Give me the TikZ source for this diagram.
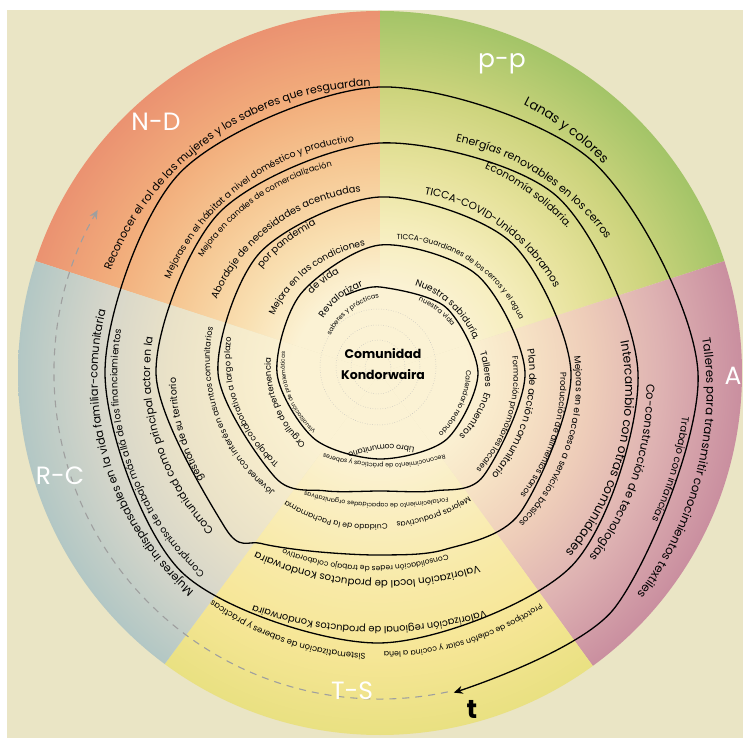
\documentclass[tikz,border=0pt]{standalone}
\usepackage{fontspec}
\setmainfont{Poppins}
\usetikzlibrary{arrows.meta,decorations.text}

\definecolor{bgbeige}{RGB}{234,229,197}
\definecolor{cpale}{RGB}{251,242,212}
\definecolor{nd1}{RGB}{249,224,178}\definecolor{nd2}{RGB}{246,200,148}\definecolor{nd3}{RGB}{242,174,124}\definecolor{nd4}{RGB}{234,144,112}\definecolor{nd5}{RGB}{216,110,102}
\definecolor{pp1}{RGB}{246,238,190}\definecolor{pp2}{RGB}{230,226,155}\definecolor{pp3}{RGB}{205,212,125}\definecolor{pp4}{RGB}{160,195,102}\definecolor{pp5}{RGB}{104,170,88}
\definecolor{aa1}{RGB}{247,228,198}\definecolor{aa2}{RGB}{238,205,185}\definecolor{aa3}{RGB}{222,178,178}\definecolor{aa4}{RGB}{200,140,158}\definecolor{aa5}{RGB}{172,102,132}
\definecolor{ts1}{RGB}{250,238,192}\definecolor{ts2}{RGB}{248,234,168}\definecolor{ts3}{RGB}{246,230,150}\definecolor{ts4}{RGB}{232,224,128}\definecolor{ts5}{RGB}{196,205,98}
\definecolor{rc1}{RGB}{246,236,204}\definecolor{rc2}{RGB}{234,226,200}\definecolor{rc3}{RGB}{214,214,202}\definecolor{rc4}{RGB}{176,198,196}\definecolor{rc5}{RGB}{124,180,180}

\pgfdeclareradialshading{shND}{\pgfpoint{0bp}{0bp}}{color(0bp)=(cpale);color(6bp)=(cpale);color(9.8bp)=(nd1);color(14.6bp)=(nd2);color(19.5bp)=(nd3);color(25.4bp)=(nd4);color(32.2bp)=(nd5);color(50bp)=(nd5)}
\pgfdeclareradialshading{shPP}{\pgfpoint{0bp}{0bp}}{color(0bp)=(cpale);color(6bp)=(cpale);color(9.8bp)=(pp1);color(14.6bp)=(pp2);color(19.5bp)=(pp3);color(25.4bp)=(pp4);color(32.2bp)=(pp5);color(50bp)=(pp5)}
\pgfdeclareradialshading{shA}{\pgfpoint{0bp}{0bp}}{color(0bp)=(cpale);color(6bp)=(cpale);color(9.8bp)=(aa1);color(14.6bp)=(aa2);color(19.5bp)=(aa3);color(25.4bp)=(aa4);color(32.2bp)=(aa5);color(50bp)=(aa5)}
\pgfdeclareradialshading{shTS}{\pgfpoint{0bp}{0bp}}{color(0bp)=(cpale);color(6bp)=(cpale);color(9.8bp)=(ts1);color(14.6bp)=(ts2);color(19.5bp)=(ts3);color(25.4bp)=(ts4);color(32.2bp)=(ts5);color(50bp)=(ts5)}
\pgfdeclareradialshading{shRC}{\pgfpoint{0bp}{0bp}}{color(0bp)=(cpale);color(6bp)=(cpale);color(9.8bp)=(rc1);color(14.6bp)=(rc2);color(19.5bp)=(rc3);color(25.4bp)=(rc4);color(32.2bp)=(rc5);color(50bp)=(rc5)}

% text on a ring: [bulge] start angle, end angle, start radius, end radius, size, text
\newcommand\arclabel[7][0]{%
  \path[decorate,decoration={text along path,text align=center,
      text={|\fontsize{#6}{#6}\selectfont|#7}}]
    plot[domain=-0.3:1.3,samples=60,variable=\x]
      ({((#4)+((#5)-(#4))*\x+(#1)*4*\x*(1-\x))*cos((#2)+((#3)-(#2))*\x)},
       {((#4)+((#5)-(#4))*\x+(#1)*4*\x*(1-\x))*sin((#2)+((#3)-(#2))*\x)});}

\begin{document}
\begin{tikzpicture}[x=1pt,y=1pt,
  sector/.style={text=white,font=\fontsize{25}{25}\selectfont,anchor=base},
  spiral/.style={line width=1.3pt,black,-{Stealth[length=9pt,width=8pt]}},
  timeline/.style={line width=1.1pt,gray!75,dash pattern=on 7pt off 6pt,-{Stealth[length=9pt,width=8pt]}},
  ringdot/.style={gray!55,dotted,line width=0.5pt}]
  \useasboundingbox (0,0) rectangle (743,738);
  \fill[bgbeige] (7,0) rectangle (743,728);

  \begin{scope}[shift={(380,365)}]
    % coloured sectors
    \begin{scope}
      \clip (0,0) -- (90:363) arc[start angle=90,end angle=162,radius=363] -- cycle;
      \shade[shading=shND] (0,0) circle (362);
    \end{scope}
    \begin{scope}
      \clip (0,0) -- (18:363) arc[start angle=18,end angle=90,radius=363] -- cycle;
      \shade[shading=shPP] (0,0) circle (362);
    \end{scope}
    \begin{scope}
      \clip (0,0) -- (-54:363) arc[start angle=-54,end angle=18,radius=363] -- cycle;
      \shade[shading=shA] (0,0) circle (362);
    \end{scope}
    \begin{scope}
      \clip (0,0) -- (-126.5:363) arc[start angle=-126.5,end angle=-54,radius=363] -- cycle;
      \shade[shading=shTS] (0,0) circle (362);
    \end{scope}
    \begin{scope}
      \clip (0,0) -- (162:363) arc[start angle=162,end angle=233.5,radius=363] -- cycle;
      \shade[shading=shRC] (0,0) circle (362);
    \end{scope}

    % faint centre rings
    \foreach \rr in {13,27,42,58}
      \draw[ringdot] (-2,6) circle (\rr);

    % time line and spiral
    \draw[timeline] (-78:326) arc[start angle=-78,end angle=-210,radius=326];
    \draw[spiral] plot[smooth,tension=0.5] coordinates {
      (114:85) (90:86) (45:93) (0:98) (-45:94) (-90:86) (-135:93) (-180:103)
      (-225:112) (-270:128) (-315:138) (-360:145) (-405:146) (-425:130)
      (-450:118) (-475:130) (-495:148) (-540:162) (-585:170) (-630:176)
      (-675:185) (-720:191) (-765:198) (-790:188) (-810:182) (-830:190)
      (-845:208) (-855:219) (-900:224) (-945:227) (-990:230)
      (-1035:250) (-1080:258) (-1125:272) (-1170:270) (-1215:281) (-1260:275)
      (-1305:283) (-1350:286) (-1395:300) (-1440:318) (-1485:332) (-1517:328)};

    % sector names
    \node[sector] (nd) at (-224,242) {N-D};
    \node[sector] (pp) at (122,305) {p-p};
    \node[sector] (a) at (353,-12) {A};
    \node[sector] (rc) at (-320,-112) {R-C};
    \node[sector] (ts) at (-28,-326) {T-S};
    \node[anchor=base,font=\fontsize{26}{26}\selectfont\bfseries] (t) at (92,-345) {t};

    % centre
    \node[font=\fontsize{12.5}{12.5}\selectfont\bfseries] (com) at (3,19) {Comunidad};
    \node[font=\fontsize{12.5}{12.5}\selectfont\bfseries] (kon) at (3,-2) {Kondorwaira};

    % N-D
    \arclabel{160}{91}{288}{287}{11}{Reconocer el rol de las mujeres y los saberes que resguardan}
    \arclabel{157}{95.6}{230}{233}{9.2}{Mejoras en el hábitat a nivel doméstico y productivo}
    \arclabel{148}{102}{212}{212}{8.3}{Mejora en canales de comercialización}
    \arclabel{154}{98}{179}{182}{9.8}{Abordaje de necesidades acentuadas}
    \arclabel{138}{114}{158}{161}{9.8}{por pandemia}
    \arclabel{152.6}{97}{120}{128}{9.2}{Mejora en las condiciones}
    \arclabel{132}{111.6}{104}{108}{9.5}{de vida}
    \arclabel{139}{100}{78}{89}{9.5}{Revalorizar}
    \arclabel{146}{92}{61}{75}{6.5}{saberes y prácticas}
    % p-p
    \arclabel{63}{42}{304}{306}{13}{Lanas y colores}
    \arclabel{74}{30}{243}{263}{11}{Energías renovables en los cerros}
    \arclabel{65}{36}{229}{237}{10.5}{Economía solidaria.}
    \arclabel{77}{26}{184}{194}{10.5}{TICCA-COVID-Unidos labramos}
    \arclabel{87}{20}{134}{150}{7.4}{TICCA-Guardianes de los cerros y el agua}
    \arclabel{72}{17}{94}{100}{9.2}{Nuestra sabiduría,}
    \arclabel{64}{32}{82}{86}{6.8}{nuestra vida}
    % A
    \arclabel{11.5}{-7.3}{102}{106}{9.2}{Talleres}
    \arclabel{-7.8}{-42.3}{107}{100}{9.2}{Encuentros}
    \arclabel{0}{-44.5}{86}{84}{7}{Calendario redondo}
    \arclabel{10.6}{-43.7}{149}{151}{9.8}{Plan de acción comunitario}
    \arclabel{8.4}{-45.9}{133}{136}{8}{Formación promotores locales}
    \arclabel{9}{-50}{194}{205}{9}{Mejoras en el acceso a servicios básicos}
    \arclabel{2.5}{-42.7}{180}{186}{8.4}{Producción de alimentos sanos}
    \arclabel{9.3}{-44.5}{242}{258}{12.3}{Intercambio con otras comunidades}
    \arclabel{-1}{-42}{266}{279}{11.5}{Co-construcción de tecnologías}
    \arclabel{-7}{-29.4}{305}{309}{10}{Trabajo con infancias}
    \arclabel{9.3}{-42.8}{323}{340}{11.8}{Talleres para transmitir conocimientos textiles}
    \arclabel{-54}{-90.6}{281}{279}{7.8}{Prototipos de calefón solar y cocina a leña}
    % T-S
    \arclabel[-8]{-66}{-118.4}{260}{264}{9.8}{Valorización regional de productos Kondorwaira}
    \arclabel{-92}{-127.3}{281}{282}{8.4}{Sistematización de saberes y prácticas}
    \arclabel[-10]{-62}{-125.4}{217}{218}{10.2}{Valorización local de productos Kondorwaira}
    \arclabel[-4]{-68}{-119.5}{194}{201}{7.5}{Consolidación redes de trabajo colaborativo}
    \arclabel{-54.7}{-83.6}{152}{150}{7.6}{Mejoras productivas}
    \arclabel{-88}{-125}{151}{158}{7.6}{Cuidado de la Pachamama}
    \arclabel[-11]{-61}{-123}{142}{141}{6.2}{Fortalecimiento de capacidades organizativas}
    \arclabel[-13]{-64}{-112}{83}{86}{7.8}{Libro comunitario}
    \arclabel[-10]{-53.5}{-125}{103}{98}{6.2}{Reconocimiento de prácticas y saberes}
    % R-C
    \arclabel{232}{164}{287}{281}{11.2}{Mujeres indispensables en la vida familiar-comunitaria}
    \arclabel{229.5}{169.4}{266}{262}{9.5}{Compromiso de trabajo más allá de los financiamientos}
    \arclabel{224}{170.6}{229}{230}{10.8}{Comunidad como principal actor en la}
    \arclabel{213}{179.2}{206}{204}{9.5}{gestión de su territorio}
    \arclabel{230.8}{164.9}{158}{173}{8.2}{Jóvenes con interés en asuntos comunitarios}
    \arclabel{224.7}{166.7}{135}{153}{8.2}{Trabajo colaborativo a largo plazo}
    \arclabel{225}{172.4}{103}{110}{8.4}{Orgullo de pertenencia}
    \arclabel{224.5}{167.8}{86}{97}{5.6}{Visualización de problemáticas}
  \end{scope}
\end{tikzpicture}
\end{document}
